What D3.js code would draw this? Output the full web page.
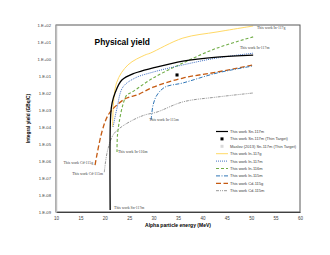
<!DOCTYPE html>
<html>
<head>
<meta charset="utf-8">
<script src="https://cdn.jsdelivr.net/npm/d3@7"></script>
<style>
  body { margin: 0; background: #fff; }
  text { font-family: "Liberation Sans", Arial, sans-serif; }
</style>
</head>
<body>
<div id="wrapper"></div>
<script>
// energies in MeV, yields in GBq/C
const sn117mE = [21.1, 21.2, 21.5, 22.1, 23.5, 26.2, 29.9, 36, 43, 50.4]
const sn117mY = [1.3e-9, 5.1e-4, 2.6e-3, 1.0e-2, 5.8e-2, 0.15, 0.30, 0.76, 1.3, 1.7]

const in117gE = [21.6, 22.4, 24.75, 28.2, 29.3, 36, 43, 49.1, 50.4]
const in117gY = [1.0e-4, 0.039, 0.45, 1.7, 2.2, 17, 39, 76, 87]

const in117mE = [21.7, 22.5, 23.7, 26.2, 29.9, 36, 43, 50.4]
const in117mY = [1.0e-4, 1.3e-3, 0.022, 0.076, 0.17, 0.45, 1.15, 2.2]

const in116mE = [22.5, 22.6, 23.1, 23.7, 24.5, 25.5, 29.9, 36, 43, 50.4]
const in116mY = [3.4e-6, 3.4e-5, 3.4e-4, 2.0e-3, 7.6e-3, 0.011, 0.076, 0.58, 4.4, 20]

const in115mE = [29.5, 29.9, 30.7, 32.3, 36, 43, 50.4]
const in115mY = [2.6e-4, 2.0e-3, 7.6e-3, 0.022, 0.039, 0.15, 0.39]

const cd115gE = [18.0, 19.4, 20.7, 22.5, 24.5, 26.6, 29.9, 36, 43, 50.4]
const cd115gY = [5.8e-7, 5.1e-5, 5.1e-4, 2.0e-3, 5.1e-3, 7.6e-3, 0.022, 0.076, 0.17, 0.45]

const cd115mE = [19.9, 20.5, 21.7, 23.1, 25.8, 28.2, 30.7, 36, 43, 50.4]
const cd115mY = [2.2e-7, 3.4e-6, 3.4e-5, 8.7e-5, 2.6e-4, 5.1e-4, 7.6e-4, 3.0e-3, 5.8e-3, 0.01]

// single thin-target points
const thinE = [34.8]
const thinY = [0.115]
const maslovE = [34.8]
const maslovY = [0.115]

const xTicks = [10, 15, 20, 25, 30, 35, 40, 45, 50, 55, 60]
const yTicks = [1e2, 1e1, 1e0, 1e-1, 1e-2, 1e-3, 1e-4, 1e-5, 1e-6, 1e-7, 1e-8, 1e-9]

// in-plot labels: text, energy, yield, anchor
const labelText = ["This work In-117g", "This work In-117m", "This work In-115m", "This work In-116m",
  "This work Cd-115g", "This work Cd-115m", "This work Sn-117m"]
const labelE = [51.2, 47.7, 29.1, 22.7, 17.6, 19.6, 21.9]
const labelY = [66, 4.4, 2.6e-4, 3.4e-6, 7.6e-7, 1.9e-7, 1.7e-9]
const labelAnchor = ["start", "start", "start", "start", "end", "end", "start"]

const legendNames = [
  "This work Sn-117m",
  "This work Sn-117m (Thin Target)",
  "Maslov (2013) Sn-117m (Thin Target)",
  "This work In-117g",
  "This work In-117m",
  "This work In-116m",
  "This work In-115m",
  "This work Cd-115g",
  "This work Cd-115m",
]

function drawChart() {
  const dims = {
    width: 330,
    height: 255,
    margin: { top: 25, right: 30, bottom: 43, left: 56 },
  }
  dims.boundedWidth = dims.width - dims.margin.left - dims.margin.right
  dims.boundedHeight = dims.height - dims.margin.top - dims.margin.bottom

  const wrapper = d3.select("#wrapper")
    .append("svg")
      .attr("width", dims.width)
      .attr("height", dims.height)

  const bounds = wrapper.append("g")
    .attr("transform", `translate(${dims.margin.left},${dims.margin.top})`)

  const xScale = d3.scaleLinear()
    .domain([10, 60])
    .range([0, dims.boundedWidth])

  const yScale = d3.scaleLog()
    .domain([1e-9, 1e2])
    .range([dims.boundedHeight, 0])

  // series styles
  const series = [
    { e: in117gE, y: in117gY, color: "#FFD966", width: 1, dash: null },
    { e: cd115mE, y: cd115mY, color: "#8C8C8C", width: 0.9, dash: "3,1,1,1,1,1" },
    { e: cd115gE, y: cd115gY, color: "#C55A11", width: 1.3, dash: "5,2.5" },
    { e: in115mE, y: in115mY, color: "#2E75B6", width: 1, dash: "4,1.5,1,1.5" },
    { e: in116mE, y: in116mY, color: "#70AD47", width: 1.1, dash: "3,2" },
    { e: in117mE, y: in117mY, color: "#4472C4", width: 1, dash: "1,1" },
    { e: sn117mE, y: sn117mY, color: "#000000", width: 1.3, dash: null },
  ]

  const lineGenerator = d3.line()
    .x(d => xScale(d[0]))
    .y(d => yScale(d[1]))
    .curve(d3.curveCatmullRom.alpha(0.5))

  bounds.selectAll(".series")
    .data(series)
    .join("path")
      .attr("class", "series")
      .attr("d", s => lineGenerator(d3.zip(s.e, s.y)))
      .attr("fill", "none")
      .attr("stroke", s => s.color)
      .attr("stroke-width", s => s.width)
      .attr("stroke-dasharray", s => s.dash)

  // points
  bounds.selectAll(".maslov")
    .data(d3.zip(maslovE, maslovY))
    .join("rect")
      .attr("x", d => xScale(d[0]) - 1.5)
      .attr("y", d => yScale(d[1]) - 1.5)
      .attr("width", 3).attr("height", 3)
      .attr("fill", "#D9D9D9")

  bounds.selectAll(".thin")
    .data(d3.zip(thinE, thinY))
    .join("rect")
      .attr("x", d => xScale(d[0]) - 1.5)
      .attr("y", d => yScale(d[1]) - 1.5)
      .attr("width", 3).attr("height", 3)
      .attr("fill", "#000")

  // in-plot labels
  bounds.selectAll(".dlabel")
    .data(labelText)
    .join("text")
      .attr("x", (d, i) => xScale(labelE[i]))
      .attr("y", (d, i) => yScale(labelY[i]))
      .attr("dy", "0.35em")
      .attr("text-anchor", (d, i) => labelAnchor[i])
      .style("font-family", "'Liberation Serif', serif")
      .style("font-size", "3.8px")
      .attr("fill", "#404040")
      .text(d => d)

  // frame
  bounds.append("rect")
    .attr("width", dims.boundedWidth)
    .attr("height", dims.boundedHeight)
    .attr("fill", "none")
    .attr("stroke", "#595959")
    .attr("stroke-width", 1)

  // axes
  const xAxisGenerator = d3.axisBottom(xScale)
    .tickValues(xTicks)
    .tickSize(0)
    .tickPadding(5)
  const xAxis = bounds.append("g")
    .attr("transform", `translate(0,${dims.boundedHeight})`)
    .call(xAxisGenerator)
  xAxis.select(".domain").attr("stroke", "#404040")
  xAxis.selectAll("text").style("font-size", "4.5px").attr("fill", "#404040")

  const yAxisGenerator = d3.axisLeft(yScale)
    .tickValues(yTicks)
    .tickFormat(d => {
      const p = Math.round(Math.log10(d))
      return "1.E" + (p < 0 ? "-" : "+") + String(Math.abs(p)).padStart(2, "0")
    })
    .tickSize(0)
    .tickPadding(5)
  const yAxis = bounds.append("g").call(yAxisGenerator)
  yAxis.select(".domain").attr("stroke", "#BFBFBF").attr("stroke-width", 1.5)
  yAxis.selectAll("text").style("font-size", "4.2px").attr("fill", "#404040")

  // titles
  bounds.append("text")
    .attr("x", xScale(17.9))
    .attr("y", 20)
    .style("font-size", "8.4px")
    .style("font-weight", "bold")
    .text("Physical yield")

  bounds.append("text")
    .attr("x", dims.boundedWidth / 2)
    .attr("y", dims.boundedHeight + 14.5)
    .attr("text-anchor", "middle")
    .style("font-size", "5px")
    .style("font-weight", "bold")
    .text("Alpha particle energy (MeV)")

  bounds.append("text")
    .attr("transform", `translate(-26,${dims.boundedHeight / 2}) rotate(-90)`)
    .attr("text-anchor", "middle")
    .style("font-size", "4.8px")
    .style("font-weight", "bold")
    .text("Integral yield (GBq/C)")

  // legend
  const legendStyles = [
    { kind: "line", color: "#000", dash: null, width: 1.2 },
    { kind: "square", color: "#000" },
    { kind: "square", color: "#D9D9D9" },
    { kind: "line", color: "#FFD966", dash: null, width: 1 },
    { kind: "line", color: "#4472C4", dash: "1,1", width: 1 },
    { kind: "line", color: "#70AD47", dash: "3,2", width: 1.1 },
    { kind: "line", color: "#2E75B6", dash: "4,1.5,1,1.5", width: 1 },
    { kind: "line", color: "#C55A11", dash: "5,2.5", width: 1.3 },
    { kind: "line", color: "#8C8C8C", dash: "3,1,1,1,1,1", width: 0.9 },
  ]
  const legend = wrapper.append("g")
    .attr("transform", "translate(216,131.5)")
  const rows = legend.selectAll("g")
    .data(legendNames)
    .join("g")
      .attr("transform", (d, i) => `translate(0,${i * 7.4})`)
  rows.each(function (d, i) {
    const st = legendStyles[i]
    const row = d3.select(this)
    if (st.kind === "line") {
      row.append("line")
        .attr("x1", 0).attr("x2", 12)
        .attr("stroke", st.color)
        .attr("stroke-width", st.width)
        .attr("stroke-dasharray", st.dash)
    } else {
      row.append("rect")
        .attr("x", 4.5).attr("y", -1.5)
        .attr("width", 3).attr("height", 3)
        .attr("fill", st.color)
    }
  })
  rows.append("text")
    .attr("x", 14)
    .attr("dy", "0.35em")
    .style("font-size", "4px")
    .attr("fill", "#404040")
    .text(d => d)
}

drawChart()
</script>
</body>
</html>
